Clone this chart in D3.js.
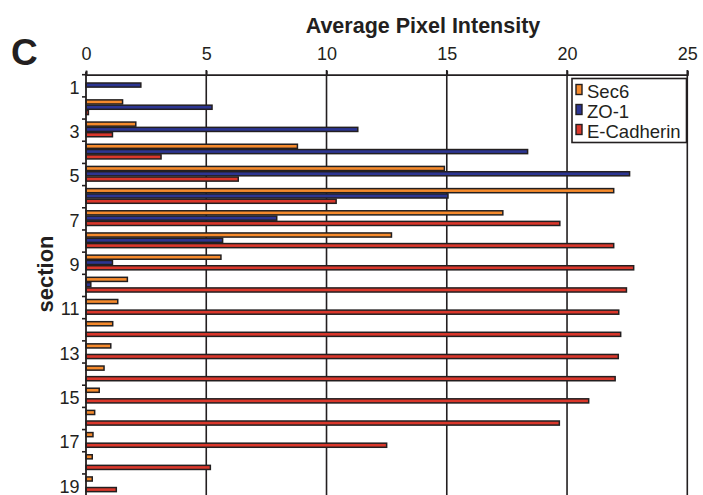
<!DOCTYPE html>
<html>
<head>
<meta charset="utf-8">
<script src="https://cdn.jsdelivr.net/npm/d3@7"></script>
<style>
  body { margin: 0; background: #fff; }
  text { font-family: "Liberation Sans", Arial, sans-serif; fill: #231f20; }
</style>
</head>
<body>
<div id="chart"></div>
<script>
// data
var sections = d3.range(1, 20);
var seriesNames = ["Sec6", "ZO-1", "E-Cadherin"];
var sec6 = [0, 1.52, 2.07, 8.79, 14.9, 21.94, 17.33, 12.7, 5.61, 1.72, 1.32, 1.11, 1.03, 0.75, 0.55, 0.36, 0.29, 0.26, 0.26];
var zo1 = [2.28, 5.24, 11.3, 18.36, 22.6, 15.05, 7.93, 5.68, 1.1, 0.2, 0, 0, 0, 0, 0, 0, 0, 0, 0];
var ecad = [0, 0.1, 1.1, 3.12, 6.33, 10.4, 19.7, 21.94, 22.77, 22.47, 22.15, 22.23, 22.13, 22.0, 20.9, 19.68, 12.5, 5.17, 1.26];
var xTicks = [0, 5, 10, 15, 20, 25];
var colors = ["#f58a2c", "#2c3592", "#da372b"];

var svgWidth = 703;
var svgHeight = 495;

var svg = d3.select("#chart")
  .append("svg")
  .attr("width", svgWidth)
  .attr("height", svgHeight);

var xScale = d3.scaleLinear()
  .domain([0, 25])
  .range([86, 687.3]);

var yScale = d3.scaleBand()
  .domain(sections)
  .range([74.7, 74.7 + 19 * 22.18]);

var ySub = d3.scaleBand()
  .domain(seriesNames)
  .range([2.4, 18.3]);

var series = [sec6, zo1, ecad];

// gridlines
svg.append("g")
  .selectAll("line")
  .data(xTicks.slice(1))
  .enter()
  .append("line")
  .attr("x1", d => xScale(d))
  .attr("x2", d => xScale(d))
  .attr("y1", 70)
  .attr("y2", svgHeight)
  .attr("stroke", "#231f20")
  .attr("stroke-width", 1.6);

// top axis
var topAxis = d3.axisTop(xScale)
  .tickValues(xTicks)
  .tickSize(4)
  .tickPadding(11)
  .tickFormat(d3.format("d"));

var xAxis = svg.append("g")
  .attr("transform", "translate(0, 74.7)")
  .call(topAxis);
xAxis.select(".domain").attr("stroke", "#231f20").attr("stroke-width", 1.8);
xAxis.selectAll(".tick line").attr("stroke", "#231f20").attr("stroke-width", 1.6);
xAxis.selectAll("text")
  .style("font-size", "18px")
  .style("font-family", "Liberation Sans, Arial, sans-serif")
  .attr("fill", "#231f20");

// bars
series.forEach(function(vals, i) {
  svg.append("g")
    .selectAll("rect")
    .data(vals.map((v, j) => ({ section: sections[j], value: v })).filter(d => d.value > 0))
    .enter()
    .append("rect")
    .attr("x", xScale(0))
    .attr("y", d => yScale(d.section) + ySub(seriesNames[i]) + 0.6)
    .attr("width", d => xScale(d.value) - xScale(0))
    .attr("height", ySub.bandwidth() - 1.2)
    .attr("fill", colors[i])
    .attr("stroke", "#231f20")
    .attr("stroke-width", 1.5);
});

// left axis
var leftTicks = sections.map(s => yScale(s)).concat([yScale(19) + yScale.bandwidth()]);
var yAxis = svg.append("g");
yAxis.append("line")
  .attr("x1", xScale(0))
  .attr("x2", xScale(0))
  .attr("y1", 72)
  .attr("y2", svgHeight)
  .attr("stroke", "#231f20")
  .attr("stroke-width", 1.8);
yAxis.selectAll(".ytick")
  .data(leftTicks)
  .enter()
  .append("line")
  .attr("class", "ytick")
  .attr("x1", xScale(0) - 4)
  .attr("x2", xScale(0))
  .attr("y1", d => d)
  .attr("y2", d => d)
  .attr("stroke", "#231f20")
  .attr("stroke-width", 1.6);
yAxis.selectAll(".ylabel")
  .data(sections.filter(s => s % 2 === 1))
  .enter()
  .append("text")
  .attr("class", "ylabel")
  .attr("x", 79.5)
  .attr("y", d => yScale(d) + yScale.bandwidth() / 2 + 7.8)
  .attr("text-anchor", "end")
  .style("font-size", "18px")
  .text(d => d);

// legend
var legend = svg.append("g").attr("transform", "translate(572, 78.5)");
legend.append("rect")
  .attr("width", 114.5)
  .attr("height", 64)
  .attr("fill", "#fff")
  .attr("stroke", "#231f20")
  .attr("stroke-width", 1.6);
seriesNames.forEach(function(name, i) {
  var g = legend.append("g").attr("transform", `translate(4, ${6 + i * 20})`);
  g.append("rect")
    .attr("width", 6)
    .attr("height", 10)
    .attr("fill", colors[i])
    .attr("stroke", "#231f20")
    .attr("stroke-width", 1.4);
  g.append("text")
    .attr("x", 11)
    .attr("y", 13)
    .style("font-size", "18.5px")
    .text(name);
});

// titles
svg.append("text")
  .attr("x", 423)
  .attr("y", 33)
  .attr("text-anchor", "middle")
  .style("font-size", "21.5px")
  .style("font-weight", "bold")
  .text("Average Pixel Intensity");

svg.append("text")
  .attr("transform", "translate(53, 274) rotate(-90)")
  .attr("text-anchor", "middle")
  .style("font-size", "22px")
  .style("font-weight", "bold")
  .text("section");

svg.append("text")
  .attr("x", 11)
  .attr("y", 65)
  .style("font-size", "37px")
  .style("font-weight", "bold")
  .text("C");
</script>
</body>
</html>
